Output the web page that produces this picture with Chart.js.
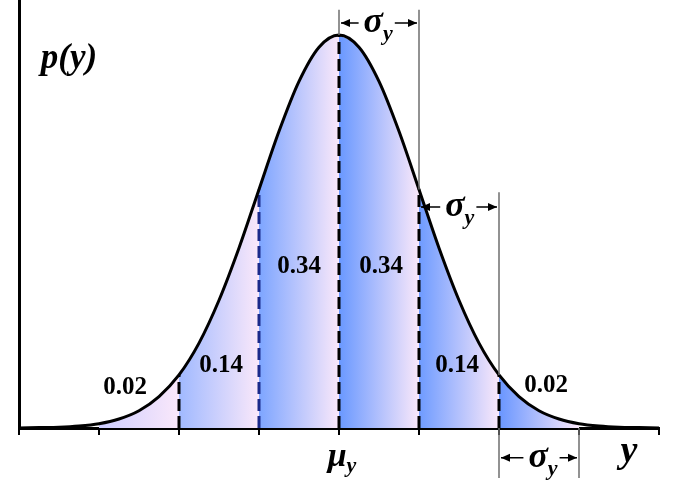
<!DOCTYPE html>
<html>
<head>
<meta charset="utf-8">
<script src="https://cdn.jsdelivr.net/npm/chart.js@4/dist/chart.umd.min.js"></script>
<style>
  html, body { margin: 0; padding: 0; background: #fff; }
  #wrap { width: 689px; height: 491px; position: relative; }
</style>
</head>
<body>
<div id="wrap"><canvas id="bell"></canvas></div>
<script>
// curve, x in units of sigma from the mean
const sigmaSteps = [-4, -3.75, -3.5, -3.25, -3, -2.75, -2.5, -2.25, -2, -1.75, -1.5, -1.25, -1, -0.75, -0.5, -0.25,
    0, 0.25, 0.5, 0.75, 1, 1.25, 1.5, 1.75, 2, 2.25, 2.5, 2.75, 3, 3.25, 3.5, 3.75, 4];
const density = [0, 0.001, 0.002, 0.005, 0.011, 0.023, 0.044, 0.08, 0.135, 0.216, 0.325, 0.458, 0.607, 0.755, 0.882, 0.969,
    1, 0.969, 0.882, 0.755, 0.607, 0.458, 0.325, 0.216, 0.135, 0.08, 0.044, 0.023, 0.011, 0.005, 0.002, 0.001, 0];

// shaded bands and their share of the area
const bandEdges = [-3, -2, -1, 0, 1, 2, 3];
const bandLabels = ['0.02', '0.14', '0.34', '0.34', '0.14', '0.02'];
const bandLabelX = [-2.675, -1.475, -0.5, 0.525, 1.475, 2.59];
const bandLabelY = [0.102, 0.158, 0.412, 0.412, 0.158, 0.109];

// dashed lines from the axis up to the curve
const dashedAt = [-2, -1, 0, 1, 2];

// thin grey guides (x, from, to)
const guideX = [0, 1, 2, 2, 3];
const guideFrom = [1.064, 1.064, 0.6, 0, 0];
const guideTo = [1, 0.607, 0.135, -0.127, -0.127];

// sigma spans with arrows
const spanFrom = [0, 1, 2];
const spanTo = [1, 2, 3];
const spanLevel = [1.0305, 0.562, -0.076];
const spanTextX = [0.49, 1.51, 2.55];

const axisTicks = [-4, -3, -2, -1, 0, 1, 2, 3, 4];

// styles
const bandStart = ['rgb(205,205,255)', 'rgb(160,185,255)', 'rgb(125,165,255)', 'rgb(105,152,255)', 'rgb(110,155,255)', 'rgb(105,150,255)'];
const bandEnd = 'rgb(250,232,250)';
const dashColors = ['#000', '#1b2a8a', '#000', '#000', '#000'];
const serif = "'Liberation Serif', 'Times New Roman', serif";

const curveAt = v => density[sigmaSteps.indexOf(v)];
const curvePoints = sigmaSteps.map((x, i) => ({ x, y: density[i] }));

const datasets = [];

// main curve, on top
datasets.push({
    data: curvePoints,
    borderColor: '#000',
    borderWidth: 3,
    pointRadius: 0,
    cubicInterpolationMode: 'monotone',
    fill: false,
    order: 0
});

dashedAt.forEach((x, i) => {
    datasets.push({
        data: [{ x, y: 0 }, { x, y: curveAt(x) }],
        borderColor: dashColors[i],
        borderWidth: 3,
        borderDash: [12, 5],
        pointRadius: 0,
        fill: false,
        order: 1
    });
});

for (let b = 0; b < bandEdges.length - 1; b++) {
    const e0 = bandEdges[b], e1 = bandEdges[b + 1];
    datasets.push({
        data: curvePoints.filter(p => p.x >= e0 && p.x <= e1),
        borderWidth: 0,
        borderColor: 'rgba(0,0,0,0)',
        pointRadius: 0,
        cubicInterpolationMode: 'monotone',
        fill: 'origin',
        order: 2,
        backgroundColor: (ctx) => {
            const chart = ctx.chart;
            const { ctx: c, chartArea, scales } = chart;
            if (!chartArea) return bandEnd;
            const x0 = scales.x.getPixelForValue(e0);
            const x1 = scales.x.getPixelForValue(e1);
            const g = c.createLinearGradient(x0, 0, x1, 0);
            g.addColorStop(0, bandStart[b]);
            g.addColorStop(1, bandEnd);
            return g;
        }
    });
}

function arrowHead(c, x, y, dir) {
    c.beginPath();
    c.moveTo(x, y);
    c.lineTo(x - dir * 9, y - 4);
    c.lineTo(x - dir * 9, y + 4);
    c.closePath();
    c.fill();
}

// symbol with a subscript y, centred at cx on baseline cy; returns its extent
function drawSubscripted(c, main, cx, cy, mainFont, subFont, subDrop) {
    c.font = mainFont;
    const w1 = c.measureText(main).width;
    c.font = subFont;
    const w2 = c.measureText('y').width;
    const left = cx - (w1 + w2) / 2;
    c.textAlign = 'left';
    c.textBaseline = 'alphabetic';
    c.font = mainFont;
    c.fillText(main, left, cy);
    c.font = subFont;
    c.fillText('y', left + w1, cy + subDrop);
    return { left, right: left + w1 + w2 };
}

const notes = {
    id: 'notes',
    afterDatasetsDraw(chart) {
        const c = chart.ctx;
        const xs = chart.scales.x, ys = chart.scales.y;
        c.save();

        // grey guides
        c.strokeStyle = 'rgb(110,110,110)';
        c.lineWidth = 1.5;
        guideX.forEach((gx, i) => {
            const px = xs.getPixelForValue(gx);
            c.beginPath();
            c.moveTo(px, ys.getPixelForValue(guideFrom[i]));
            c.lineTo(px, ys.getPixelForValue(guideTo[i]));
            c.stroke();
        });

        // band shares
        c.fillStyle = '#000';
        c.font = 'bold 25px ' + serif;
        c.textAlign = 'center';
        c.textBaseline = 'middle';
        bandLabels.forEach((t, i) => {
            c.fillText(t, xs.getPixelForValue(bandLabelX[i]), ys.getPixelForValue(bandLabelY[i]));
        });

        // sigma spans
        spanFrom.forEach((f, i) => {
            const xa = xs.getPixelForValue(f);
            const xb = xs.getPixelForValue(spanTo[i]);
            const py = ys.getPixelForValue(spanLevel[i]);
            const tx = xs.getPixelForValue(spanTextX[i]);
            const box = drawSubscripted(c, 'σ', tx, py + 9, 'bold italic 36px ' + serif, 'bold italic 22px ' + serif, 8);
            c.strokeStyle = '#000';
            c.lineWidth = 1.5;
            c.beginPath();
            c.moveTo(xa + 2, py);
            c.lineTo(box.left - 5, py);
            c.moveTo(box.right + 2, py);
            c.lineTo(xb - 2, py);
            c.stroke();
            arrowHead(c, xa + 2, py, -1);
            arrowHead(c, xb - 2, py, 1);
        });

        // axis names
        c.textAlign = 'center';
        c.textBaseline = 'alphabetic';
        c.font = 'bold italic 35px ' + serif;
        c.fillText('p(y)', 69, 68);
        c.font = 'bold italic 38px ' + serif;
        c.fillText('y', 629, 462);
        drawSubscripted(c, 'μ', xs.getPixelForValue(0) + 3, 466, 'bold italic 34px ' + serif, 'bold italic 22px ' + serif, 6);

        c.restore();
    }
};

new Chart(document.getElementById('bell'), {
    type: 'line',
    data: { datasets },
    plugins: [notes],
    options: {
        responsive: true,
        maintainAspectRatio: false,
        animation: false,
        layout: { padding: { left: 0, right: 30, top: 0, bottom: 0 } },
        plugins: {
            legend: { display: false },
            tooltip: { enabled: false }
        },
        scales: {
            x: {
                type: 'linear',
                min: -4,
                max: 4,
                afterFit: s => { s.height = 63; },
                afterBuildTicks: s => { s.ticks = axisTicks.map(v => ({ value: v })); },
                ticks: { display: false },
                grid: {
                    display: true,
                    drawOnChartArea: false,
                    drawTicks: true,
                    tickLength: 7,
                    lineWidth: 2,
                    color: '#000'
                },
                border: { display: true, color: '#000', width: 3 }
            },
            y: {
                min: 0,
                max: 1.089,
                afterFit: s => { s.width = 19; },
                ticks: { display: false },
                grid: { display: false },
                border: { display: true, color: '#000', width: 3 }
            }
        }
    }
});
</script>
</body>
</html>
